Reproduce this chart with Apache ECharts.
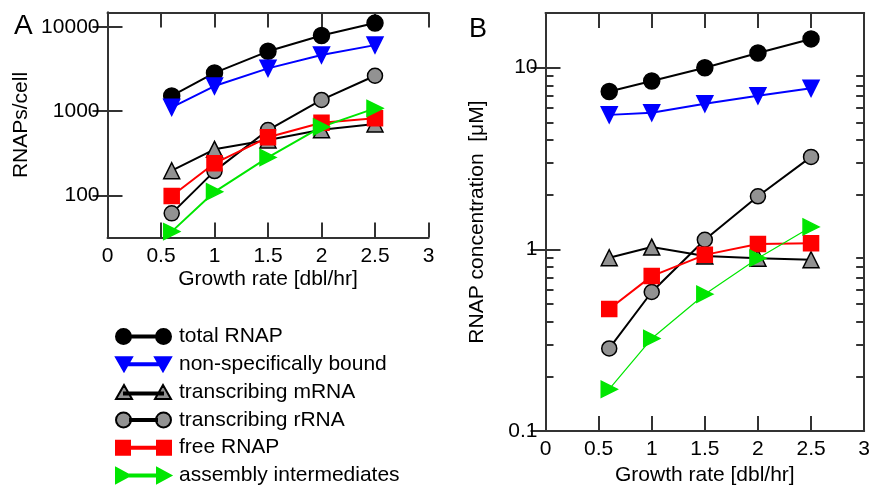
<!DOCTYPE html>
<html>
<head>
<meta charset="utf-8">
<script src="https://cdn.jsdelivr.net/npm/echarts@6/dist/echarts.min.js"></script>
<style>
html,body{margin:0;padding:0;background:#fff;}
#chart{width:873px;height:491px;}
</style>
</head>
<body>
<div id="chart"></div>
<script>
// ---- data ----
var growthRates = [0.6, 1.0, 1.5, 2.0, 2.5];
var seriesNames = ['total RNAP', 'non-specifically bound', 'transcribing mRNA', 'transcribing rRNA', 'free RNAP', 'assembly intermediates'];

// Panel A: RNAPs per cell
var totalA    = [1520, 2850, 5150, 7950, 11150];
var nonSpecA  = [1110, 1990, 3230, 4650, 6100];
var mRNA_A    = [196, 352, 455, 600, 705];
var rRNA_A    = [61, 194, 597, 1360, 2640];
var freeA     = [98, 240, 489, 730, 822];
var assemblyA = [37, 110, 282, 650, 1080];

// Panel B: RNAP concentration (uM)
var totalB    = [7.4, 8.45, 10.0, 12.05, 14.4];
var nonSpecB  = [5.5, 5.65, 6.33, 7.0, 7.7];
var mRNA_B    = [0.90, 1.03, 0.92, 0.895, 0.877];
var rRNA_B    = [0.285, 0.583, 1.13, 1.96, 3.23];
var freeB     = [0.47, 0.713, 0.933, 1.07, 1.08];
var assemblyB = [0.17, 0.323, 0.567, 0.895, 1.33];

// tick labels
var xTickLabels = [0, 0.5, 1, 1.5, 2, 2.5, 3];
var yTicksA = [100, 1000, 10000];
var yTicksB = [0.1, 1, 10];
var yMinorB = [0.2, 0.3, 0.4, 0.5, 0.6, 0.7, 0.8, 0.9, 2, 3, 4, 5, 6, 7, 8, 9];

// ---- styling ----
var FONT = 'Liberation Sans, Arial, Helvetica, sans-serif';
var AX = '#333';
var GRAY = '#929292';

function pairs(ys) { return growthRates.map(function (x, i) { return [x, ys[i]]; }); }
function fmt(v) { return String(+Number(v).toPrecision(6)); }

function xAxisPair(grid) {
  var base = {
    type: 'value', gridIndex: grid, min: 0, max: 3, interval: 0.5,
    axisLine: { show: true, lineStyle: { color: AX, width: 2 } },
    axisTick: { show: true, inside: true, length: 15, lineStyle: { color: AX, width: 2 } },
    splitLine: { show: false }
  };
  var bottom = Object.assign({}, base, {
    position: 'bottom',
    name: 'Growth rate [dbl/hr]', nameLocation: 'middle', nameGap: grid === 0 ? 31 : 32,
    nameTextStyle: { fontSize: 21, color: '#000', fontFamily: FONT },
    axisLabel: {
      show: true, margin: 8, fontSize: 21, color: '#000', fontFamily: FONT,
      customValues: xTickLabels, formatter: fmt
    }
  });
  var top = Object.assign({}, base, { position: 'top', axisLabel: { show: false } });
  return [bottom, top];
}

var markerSpec = {
  total:    { symbol: 'circle', size: 16, color: '#000', border: '#000', line: '#000', rot: 0 },
  nonSpec:  { symbol: 'triangle', size: 16, color: '#0000ff', border: '#0000ff', line: '#0000ff', rot: 180 },
  mRNA:     { symbol: 'triangle', size: 16, color: GRAY, border: '#000', line: '#000', rot: 0 },
  rRNA:     { symbol: 'circle', size: 15, color: GRAY, border: '#000', line: '#000', rot: 0 },
  free:     { symbol: 'rect', size: 15, color: '#ff0000', border: '#ff0000', line: '#ff0000', rot: 0 },
  assembly: { symbol: 'triangle', size: 16, color: '#00e600', border: '#00e600', line: '#00e600', rot: -90 }
};
var keys = ['total', 'nonSpec', 'mRNA', 'rRNA', 'free', 'assembly'];
var dataA = [totalA, nonSpecA, mRNA_A, rRNA_A, freeA, assemblyA];
var dataB = [totalB, nonSpecB, mRNA_B, rRNA_B, freeB, assemblyB];

function makeSeries(k, idx, values, xi, yi, lw) {
  var m = markerSpec[k];
  return {
    type: 'line', name: seriesNames[idx], xAxisIndex: xi, yAxisIndex: yi,
    data: pairs(values),
    symbol: m.symbol, symbolSize: m.size, symbolRotate: m.rot,
    showAllSymbol: true, animation: false,
    lineStyle: { color: m.line, width: lw },
    itemStyle: { color: m.color, borderColor: m.border, borderWidth: 1.5 },
    emphasis: { disabled: true }
  };
}

var series = [];
keys.forEach(function (k, i) { series.push(makeSeries(k, i, dataA[i], 0, 0, 2)); });
keys.forEach(function (k, i) { series.push(makeSeries(k, i, dataB[i], 2, 2, k === 'assembly' ? 1.2 : 2)); });

function logY(grid, pos, min, max, ticks, len, labels, name, nameGap) {
  var ax = {
    type: 'log', logBase: 10, gridIndex: grid, position: pos, offset: 0, min: min, max: max,
    axisLine: { show: true, lineStyle: { color: AX, width: 2 } },
    axisTick: { show: true, inside: true, length: len, customValues: ticks, lineStyle: { color: AX, width: 2 } },
    splitLine: { show: false }, minorTick: { show: false },
    axisLabel: labels ? {
      show: true, margin: 8, fontSize: 21, color: '#000', fontFamily: FONT,
      customValues: labels, formatter: fmt
    } : { show: false }
  };
  if (name) {
    ax.name = name; ax.nameLocation = 'middle'; ax.nameGap = nameGap;
    ax.nameTextStyle = { fontSize: 21, color: '#000', fontFamily: FONT };
  }
  return ax;
}

function iconCircle() {
  return 'path://M0,7.5A7.5,7.5,0,1,0,15,7.5A7.5,7.5,0,1,0,0,7.5ZM14,6.5H41V8.5H14ZM40,7.5A7.5,7.5,0,1,0,55,7.5A7.5,7.5,0,1,0,40,7.5Z';
}
var icons = [
  iconCircle(),
  'path://M0,0.5H16L8,14.5ZM8,6.5H47V8.5H8ZM39,0.5H55L47,14.5Z',
  'path://M0,14.5L8,0.5L16,14.5ZM8,8H47V10H8ZM39,14.5L47,0.5L55,14.5Z',
  iconCircle(),
  'path://M0,0.5H14V14.5H0ZM7,6.5H48V8.5H7ZM41,0.5H55V14.5H41Z',
  'path://M0,0L14,7.5L0,15ZM7,6.5H48V8.5H7ZM41,0L55,7.5L41,15Z'
];

var option = {
  backgroundColor: '#fff',
  animation: false,
  title: [
    { text: 'A', left: 9, top: 7, textStyle: { fontSize: 28, fontWeight: 'normal', color: '#000', fontFamily: FONT } },
    { text: 'B', left: 464, top: 11, textStyle: { fontSize: 27, fontWeight: 'normal', color: '#000', fontFamily: FONT } }
  ],
  legend: {
    orient: 'vertical', left: 115, top: 326, padding: 0,
    itemWidth: 55, itemHeight: 15, itemGap: 6.8,
    selectedMode: false,
    textStyle: { fontSize: 21, color: '#000', fontFamily: FONT, padding: [0, 0, 0, 3] },
    data: seriesNames.map(function (n, i) { return { name: n, icon: icons[i] }; })
  },
  grid: [
    { left: 107.5, top: 12.5, width: 321, height: 225, containLabel: false },
    { left: 545.5, top: 13, width: 320.5, height: 424.5, containLabel: false }
  ],
  xAxis: xAxisPair(0).concat(xAxisPair(1)),
  yAxis: [
    logY(0, 'left', 31.5, 14900, yTicksA, 15, yTicksA, 'RNAPs/cell', 76),
    logY(0, 'right', 31.5, 14900, yTicksA, 15, null),
    logY(1, 'left', 0.1, 20, yTicksB, 15, yTicksB, 'RNAP concentration  [\u03bcM]', 58),
    logY(1, 'right', 0.1, 20, yTicksB, 15, null),
    logY(1, 'left', 0.1, 20, yMinorB, 8, null),
    logY(1, 'right', 0.1, 20, yMinorB, 8, null)
  ],
  series: series
};

var chart = echarts.init(document.getElementById('chart'), null, { renderer: 'canvas' });
chart.setOption(option);
</script>
</body>
</html>
